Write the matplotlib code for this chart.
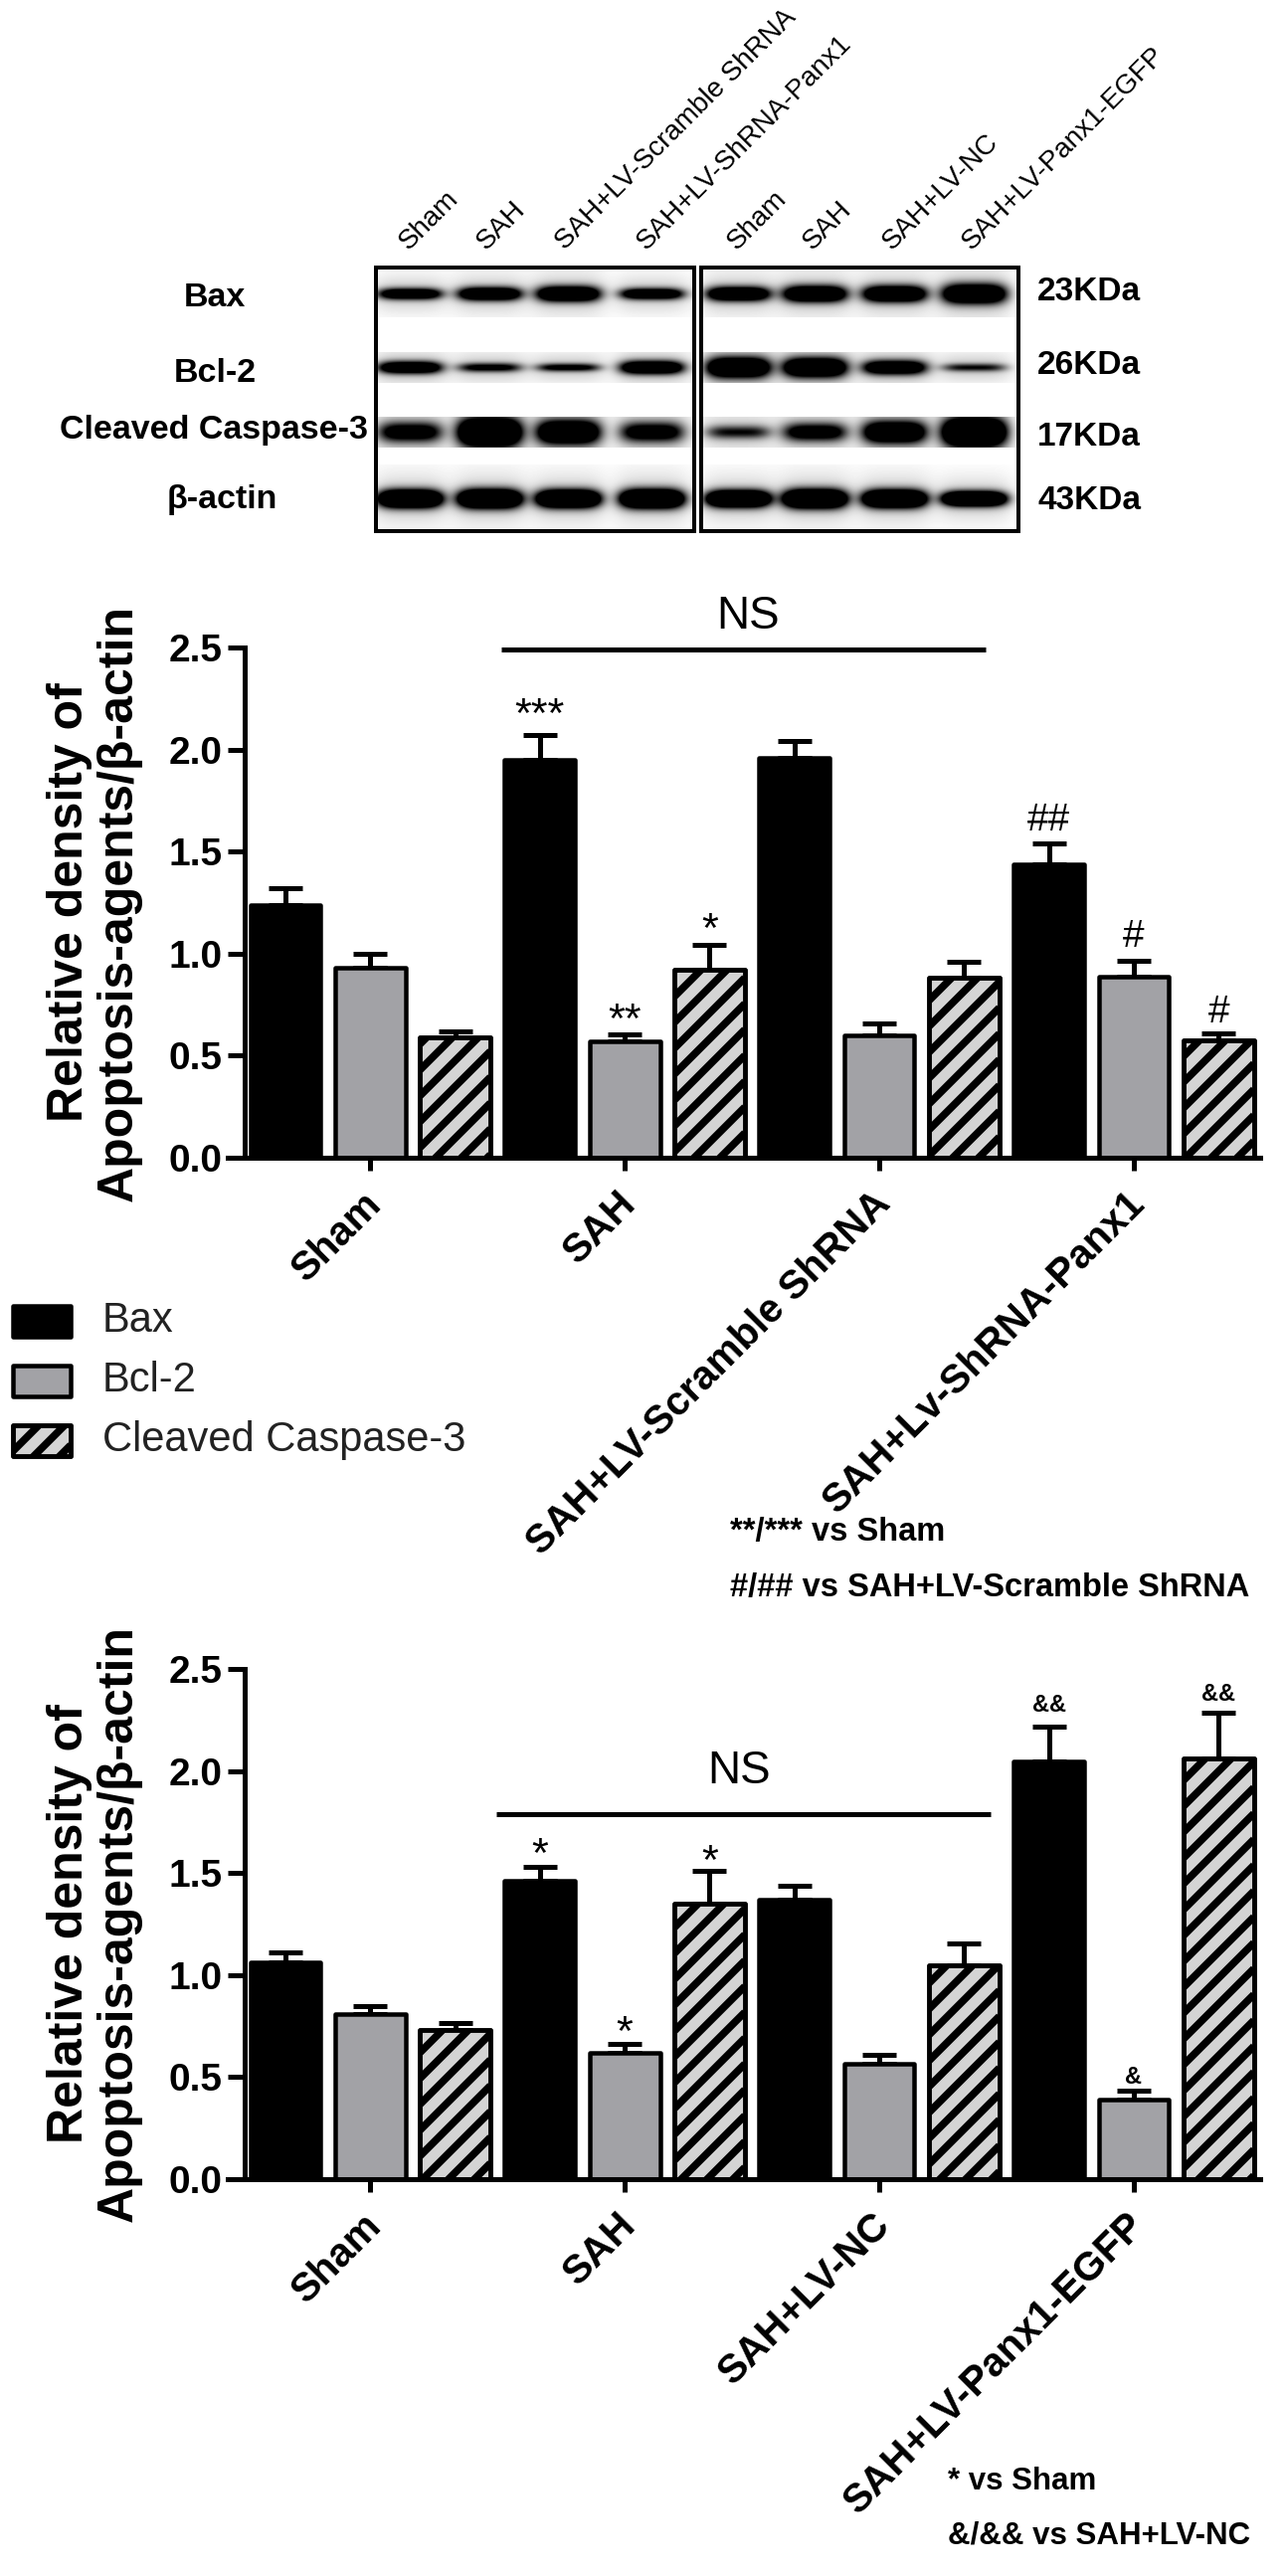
import numpy as np
import matplotlib
matplotlib.use('Agg')
import matplotlib.pyplot as plt
from matplotlib.collections import LineCollection
from matplotlib.patches import Rectangle
from matplotlib.transforms import IdentityTransform, ScaledTranslation

plt.rcParams['font.family'] = ['Liberation Sans', 'DejaVu Sans']

W, H = 1293, 2590

# bar chart values, top panel
GROUPS_TOP = ['Sham', 'SAH', 'SAH+LV-Scramble ShRNA', 'SAH+Lv-ShRNA-Panx1']
BAX_TOP = [1.24, 1.95, 1.96, 1.44]
BAX_TOP_ERR = [0.08, 0.12, 0.08, 0.10]
BCL_TOP = [0.93, 0.57, 0.60, 0.885]
BCL_TOP_ERR = [0.07, 0.035, 0.06, 0.08]
CAS_TOP = [0.59, 0.92, 0.88, 0.575]
CAS_TOP_ERR = [0.03, 0.125, 0.08, 0.035]

# bar chart values, bottom panel
GROUPS_BOTTOM = ['Sham', 'SAH', 'SAH+LV-NC', 'SAH+LV-Panx1-EGFP']
BAX_BOTTOM = [1.06, 1.46, 1.37, 2.045]
BAX_BOTTOM_ERR = [0.05, 0.07, 0.07, 0.17]
BCL_BOTTOM = [0.81, 0.62, 0.565, 0.39]
BCL_BOTTOM_ERR = [0.04, 0.045, 0.045, 0.045]
CAS_BOTTOM = [0.73, 1.35, 1.05, 2.06]
CAS_BOTTOM_ERR = [0.035, 0.16, 0.105, 0.225]

YTICKS = [0.0, 0.5, 1.0, 1.5, 2.0, 2.5]
YLABEL = 'Relative density of\nApoptosis-agents/\u03b2-actin'

# significance marks: bar index, height, text, size, weight
MARKS_TOP = [(3, 2.165, '***', 31, 'normal'), (4, 0.67, '**', 31, 'normal'),
             (5, 1.11, '*', 31, 'normal'), (9, 1.65, '##', 28, 'normal'),
             (10, 1.08, '#', 28, 'normal'), (11, 0.71, '#', 28, 'normal')]
MARKS_BOTTOM = [(3, 1.585, '*', 31, 'normal'), (4, 0.71, '*', 31, 'normal'),
                (5, 1.55, '*', 31, 'normal'), (9, 2.32, '&&', 17, 'bold'),
                (10, 0.50, '&', 17, 'bold'), (11, 2.375, '&&', 17, 'bold')]

# NS bracket: first bar, last bar, height, text centre, text height
NS_TOP = (2.55, 8.25, 2.49, 5.45, 2.65)
NS_BOTTOM = (2.49, 8.31, 1.79, 5.35, 2.0)

# blot, per row: centre y, half height of the strip, band half heights left then right, strength
ROW_NAMES = ['Bax', 'Bcl-2', 'Cleaved Caspase-3', '\u03b2-actin']
ROW_MASS = ['23KDa', '26KDa', '17KDa', '43KDa']
ROW_Y = [295, 369, 434, 501]
ROW_CROP = [23, 15, 15, 34]
BAND_H = [[5.5, 6.5, 7.5, 5.5, 7, 8, 8, 9.5],
          [6, 4.5, 4, 6.5, 10, 9.5, 7, 4],
          [10, 14, 12, 10, 6.5, 9, 11, 14],
          [8.5, 9, 8.5, 9, 8, 9, 8.5, 7]]
BAND_S = [[1.5, 1.7, 1.8, 1.5, 1.7, 1.8, 1.8, 1.9],
          [1.6, 1.0, 1.0, 1.7, 1.9, 1.9, 1.6, 0.8],
          [1.2, 2.2, 1.8, 1.2, 0.8, 1.2, 1.7, 2.3],
          [2.4, 2.4, 2.4, 2.4, 2.4, 2.4, 2.4, 2.4]]
LANE_X = [412, 492, 571, 655, 742, 819, 899, 979]
LANE_NAMES = ['Sham', 'SAH', 'SAH+LV-Scramble ShRNA', 'SAH+LV-ShRNA-Panx1',
              'Sham', 'SAH', 'SAH+LV-NC', 'SAH+LV-Panx1-EGFP']
LANE_LABEL_X = [411, 489, 568, 650, 741, 817, 897, 977]

LEGEND_NAMES = ['Bax', 'Bcl-2', 'Cleaved Caspase-3']
NOTES_TOP = ['**/*** vs Sham', '#/## vs SAH+LV-Scramble ShRNA']
NOTES_BOTTOM = ['* vs Sham', '&/&& vs SAH+LV-NC']

BLACK = '#000000'
GRAY = '#a2a2a6'
LIGHT = '#d4d4d4'
PX = 0.72  # one pixel in points at dpi 100

fig = plt.figure(figsize=(W / 100, H / 100), dpi=100)
page = fig.add_axes([0, 0, 1, 1])
page.axis('off')


def add_stripes(ax, patch, gap=26, width=7.5):
    x0, y0, x1, y1 = patch.get_window_extent().extents
    segs = []
    for c in np.arange((x0 - y1) // gap * gap, x1 - y0 + gap, gap):
        segs.append([(x0, x0 - c), (x1, x1 - c)])
    stripes = LineCollection(segs, colors=BLACK, linewidths=width * PX,
                             transform=IdentityTransform(), zorder=2.5)
    ax.add_collection(stripes, autolim=False)
    stripes.set_clip_path(patch)


def draw_panel(y_bottom, y_top, groups, series, errors, marks, ns):
    ax = fig.add_axes([229 / W, 1 - y_bottom / H, (1267 - 229) / W, (y_bottom - y_top) / H])
    ax.patch.set_alpha(0)
    ax.set_xlim(-0.68, 11.49)
    ax.set_ylim(0, 2.5)
    colours = [BLACK, GRAY, LIGHT]
    for s, (vals, errs) in enumerate(zip(series, errors)):
        xs = np.arange(len(vals)) * 3 + s
        ax.errorbar(xs, vals, yerr=[np.zeros(len(errs)), errs], fmt='none', ecolor=BLACK,
                    elinewidth=5 * PX, capsize=17 * PX, capthick=5 * PX, zorder=1, clip_on=False)
        bars = ax.bar(xs, vals, width=0.83, color=colours[s], edgecolor=BLACK,
                      linewidth=4.5 * PX, zorder=2)
        for bar in bars:
            bar.set_joinstyle('round')
            if s == 2:
                add_stripes(ax, bar)
                edge = Rectangle(bar.get_xy(), bar.get_width(), bar.get_height(), fill=False,
                                 edgecolor=BLACK, linewidth=4.5 * PX, joinstyle='round', zorder=3)
                ax.add_patch(edge)

    for spine in ['top', 'right']:
        ax.spines[spine].set_visible(False)
    ax.spines['left'].set_position(('data', -0.48))
    ax.spines['left'].set_linewidth(5 * PX)
    ax.spines['bottom'].set_linewidth(5 * PX)
    ax.spines['bottom'].set_zorder(4)

    ax.set_yticks(YTICKS)
    ax.set_yticklabels(['%.1f' % t for t in YTICKS], fontsize=28, fontweight='bold')
    ax.tick_params(axis='y', length=17 * PX, width=5 * PX, pad=4)
    ax.set_xticks([1, 4, 7, 10])
    ax.set_xticklabels(groups, fontsize=29, fontweight='bold', rotation=45, ha='right',
                       va='top', rotation_mode='anchor')
    ax.tick_params(axis='x', length=13 * PX, width=5 * PX, pad=10)
    shift = ScaledTranslation(-8 / 100, 0, fig.dpi_scale_trans)
    for label in ax.get_xticklabels():
        label.set_transform(label.get_transform() + shift)

    for x, y, txt, size, weight in marks:
        ax.text(x, y, txt, fontsize=size, fontweight=weight, ha='center', va='center', clip_on=False)
    x0, x1, y, tx, ty = ns
    ax.plot([x0, x1], [y, y], color=BLACK, lw=5 * PX, solid_capstyle='butt', clip_on=False, zorder=3)
    ax.text(tx, ty, 'NS', fontsize=33, ha='center', va='center')

    page.text(95, (y_bottom + y_top) / 2, YLABEL, fontsize=36, fontweight='bold', rotation=90,
              ha='center', va='center', linespacing=1.1, multialignment='center')
    return ax


# western blot drawn from the band tables
yy, xx = np.mgrid[262:541, 372:1030]
dark = np.zeros(xx.shape)
for r, cy in enumerate(ROW_Y):
    row = np.zeros(xx.shape)
    for lane, cx in enumerate(LANE_X):
        hh = BAND_H[r][lane]
        row += BAND_S[r][lane] * np.exp(-((xx - cx) / 32.0) ** 4 - ((yy - cy) / hh) ** 2)
        row += 0.2 * np.exp(-((xx - cx) / 38.0) ** 4 - ((yy - cy) / (hh * 2.4 + 5)) ** 2)
    row[np.abs(yy - cy) > ROW_CROP[r]] = 0
    dark += row
page.imshow(1 - np.clip(dark, 0, 1), cmap='gray', vmin=0, vmax=1, extent=(372, 1030, 541, 262),
            aspect='auto', interpolation='bilinear', zorder=1)
page.set_xlim(0, W)
page.set_ylim(H, 0)
for x0, x1 in [(378, 698), (705, 1024)]:
    page.add_patch(Rectangle((x0, 269), x1 - x0, 265, fill=False, edgecolor=BLACK, linewidth=4 * PX, zorder=2))
for x0, x1 in [(372, 378), (698, 705), (1024, 1030)]:
    page.fill_between([x0, x1], 262, 541, color='white', zorder=1.5)

for x, name in zip(LANE_LABEL_X, LANE_NAMES):
    page.text(x, 252, name, fontsize=20, rotation=45, ha='left', va='baseline', rotation_mode='anchor')
for name, y, x_name in zip(ROW_NAMES, [300, 375, 432, 503], [216, 216, 215, 223]):
    page.text(x_name, y, name, fontsize=24.5, fontweight='bold', ha='center', va='center')
for mass, y in zip(ROW_MASS, [294, 368, 439, 504]):
    page.text(1043, y, mass, fontsize=24, fontweight='bold', ha='left', va='center')

draw_panel(1164, 651, GROUPS_TOP, [BAX_TOP, BCL_TOP, CAS_TOP],
           [BAX_TOP_ERR, BCL_TOP_ERR, CAS_TOP_ERR], MARKS_TOP, NS_TOP)
draw_panel(2191, 1678, GROUPS_BOTTOM, [BAX_BOTTOM, BCL_BOTTOM, CAS_BOTTOM],
           [BAX_BOTTOM_ERR, BCL_BOTTOM_ERR, CAS_BOTTOM_ERR], MARKS_BOTTOM, NS_BOTTOM)

# legend
for name, colour, y in zip(LEGEND_NAMES, [BLACK, GRAY, LIGHT], [1328, 1388, 1448]):
    swatch = Rectangle((13, y - 15.5), 58, 31, facecolor=colour, edgecolor=BLACK, linewidth=4.5 * PX,
                       joinstyle='round', zorder=2)
    page.add_patch(swatch)
    if colour == LIGHT:
        add_stripes(page, swatch)
        page.add_patch(Rectangle((13, y - 15.5), 58, 31, fill=False, edgecolor=BLACK,
                                 linewidth=4.5 * PX, joinstyle='round', zorder=3))
    page.text(103, y, name, fontsize=30, color='#222222', ha='left', va='center')

# notes under the panels
for txt, y in zip(NOTES_TOP, [1541, 1596]):
    page.text(734, y, txt, fontsize=23.5, fontweight='bold', ha='left', va='center')
for txt, y in zip(NOTES_BOTTOM, [2495, 2550]):
    page.text(953, y, txt, fontsize=22.5, fontweight='bold', ha='left', va='center')

fig.savefig('out.png', dpi=100)
